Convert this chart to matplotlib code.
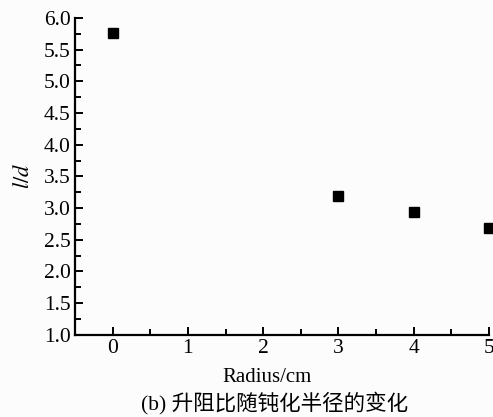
import matplotlib.pyplot as plt
from matplotlib.ticker import MultipleLocator

# 升阻比随钝化半径的变化
radius = [0, 3, 4, 5]
lift_drag = [5.76, 3.19, 2.94, 2.69]

plt.rcParams['font.family'] = ['Liberation Serif', 'Noto Sans CJK SC']
plt.rcParams['mathtext.fontset'] = 'stix'

fig = plt.figure(figsize=(4.93, 4.17), dpi=100, facecolor='#fcfcfc')
ax = fig.add_axes([0.152, 0.197, 0.840, 0.760])
ax.set_facecolor('#fcfcfc')

ax.plot(radius, lift_drag, 's', color='black', markersize=7.2, clip_on=False)

ax.set_xlim(-0.5, 5)
ax.set_ylim(1.0, 6.0)
ax.xaxis.set_major_locator(MultipleLocator(1))
ax.xaxis.set_minor_locator(MultipleLocator(0.5))
ax.yaxis.set_major_locator(MultipleLocator(0.5))
ax.yaxis.set_minor_locator(MultipleLocator(0.25))
ax.yaxis.set_major_formatter(lambda v, p: f'{v:.1f}')

for s in ['top', 'right']:
    ax.spines[s].set_visible(False)
for s in ['left', 'bottom']:
    ax.spines[s].set_linewidth(1.6)

ax.tick_params(which='both', direction='in', width=1.4, labelsize=15.5, pad=3)
ax.tick_params(which='major', length=6)
ax.tick_params(which='minor', length=4)

ax.set_ylabel('$l/d$', fontsize=16, labelpad=7)
ax.set_xlabel('Radius/cm', fontsize=15, labelpad=7, x=0.464)
fig.text(0.556, 0.033, '(b) 升阻比随钝化半径的变化', ha='center', va='center', fontsize=15.5)

plt.savefig('out.png', dpi=100, facecolor=fig.get_facecolor())
